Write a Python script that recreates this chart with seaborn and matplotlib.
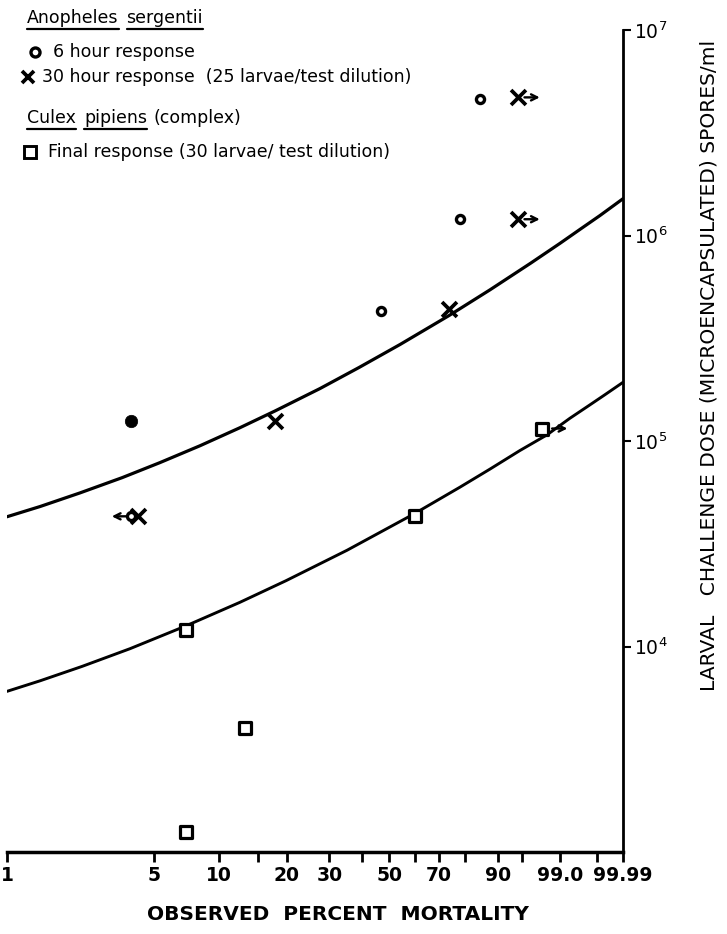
import numpy as np
import pandas as pd
import matplotlib
matplotlib.use("Agg")
import matplotlib.pyplot as plt
import seaborn as sns
from matplotlib.transforms import ScaledTranslation
from matplotlib.lines import Line2D

# ---------------- data ----------------
six_hour_pct = [3.9, 3.9, 47.0, 78.0, 85.0]
six_hour_dose = [1.25e5, 4.3e4, 4.3e5, 1.2e6, 4.6e6]
six_hour_fill = ["filled", "open", "open", "open", "open"]
six_hour_arrow = [None, "left", None, None, None]

thirty_hour_pct = [4.2, 17.8, 74.0, 94.3, 94.3]
thirty_hour_dose = [4.3e4, 1.25e5, 4.4e5, 1.2e6, 4.7e6]
thirty_hour_arrow = [None, None, None, "right", "right"]

culex_pct = [7.0, 13.1, 7.0, 60.0, 97.7]
culex_dose = [1.25e3, 4.0e3, 1.2e4, 4.3e4, 1.15e5]
culex_arrow = [None, None, None, None, "right"]

anoph_curve_pct = [1.0, 1.44, 2.23, 3.53, 5.32, 8.16, 12.4, 17.75, 27.5, 39.1,
                   54.2, 73.9, 87.9, 96.4, 98.98, 99.67, 99.92, 99.99]
anoph_curve_dose = [4.28e4, 4.80e4, 5.59e4, 6.63e4, 7.85e4, 9.48e4, 1.16e5, 1.40e5, 1.80e5, 2.28e5,
                    2.95e5, 4.08e5, 5.44e5, 7.35e5, 9.16e5, 1.07e6, 1.25e6, 1.51e6]
culex_curve_pct = [1.0, 1.44, 2.28, 3.85, 7.03, 12.4, 19.8, 35.2, 59.8, 78.0,
                   87.9, 94.7, 98.1, 99.40, 99.81, 99.947, 99.99]
culex_curve_dose = [6.05e3, 6.81e3, 8.0e3, 9.76e3, 1.26e4, 1.64e4, 2.09e4, 2.94e4, 4.42e4, 5.96e4,
                    7.30e4, 8.98e4, 1.07e5, 1.29e5, 1.48e5, 1.68e5, 1.93e5]

x_ticks = [1, 5, 10, 15, 20, 30, 40, 50, 60, 70, 80, 90, 95, 99.0, 99.9, 99.99]
x_tick_labels = ["1", "5", "10", "", "20", "30", "", "50", "", "70", "", "90", "", "99.0", "", "99.99"]
y_ticks = [1e4, 1e5, 1e6, 1e7]
y_tick_labels = [r"$10^4$", r"$10^5$", r"$10^6$", r"$10^7$"]

x_label = "OBSERVED  PERCENT  MORTALITY"
y_label = "LARVAL   CHALLENGE DOSE (MICROENCAPSULATED) SPORES/ml"

# ---------------- style ----------------
sns.set_style("white")
plt.rcParams["font.family"] = ["DejaVu Sans"]
plt.rcParams["mathtext.fontset"] = "dejavusans"
plt.rcParams["text.color"] = "black"
plt.rcParams["axes.edgecolor"] = "black"
plt.rcParams["xtick.color"] = "black"
plt.rcParams["ytick.color"] = "black"
plt.rcParams["axes.labelcolor"] = "black"

W, H = 727, 934
fig = plt.figure(figsize=(W / 100, H / 100), dpi=100)
ax = fig.add_axes([7 / W, 1 - 852 / H, (623 - 7) / W, (852 - 30) / H])


def fwd(p):
    p = np.clip(np.asarray(p, dtype=float), 1e-9, 100 - 1e-9)
    return np.log(-np.log1p(-p / 100.0))


def inv(w):
    w = np.asarray(w, dtype=float)
    return 100.0 * (-np.expm1(-np.exp(w)))


ax.set_xscale("function", functions=(fwd, inv))
ax.set_yscale("log")

# fitted response curves
sns.lineplot(x=anoph_curve_pct, y=anoph_curve_dose, sort=False, estimator=None,
             color="black", lw=2.3, ax=ax)
sns.lineplot(x=culex_curve_pct, y=culex_curve_dose, sort=False, estimator=None,
             color="black", lw=2.1, ax=ax)

six_df = pd.DataFrame({"pct": six_hour_pct, "dose": six_hour_dose, "fill": six_hour_fill})
thirty_df = pd.DataFrame({"pct": thirty_hour_pct, "dose": thirty_hour_dose})
culex_df = pd.DataFrame({"pct": culex_pct, "dose": culex_dose})

sns.scatterplot(data=six_df[six_df["fill"] == "open"], x="pct", y="dose", marker="o", s=34,
                color="white", edgecolor="black", linewidth=2.4, ax=ax, zorder=5)
sns.scatterplot(data=six_df[six_df["fill"] == "filled"], x="pct", y="dose", marker="o", s=80,
                color="black", edgecolor="black", linewidth=0.5, ax=ax, zorder=5)
sns.scatterplot(data=thirty_df, x="pct", y="dose", marker="x", s=115,
                color="black", linewidth=2.7, ax=ax, zorder=5)
sns.scatterplot(data=culex_df, x="pct", y="dose", marker="s", s=85,
                color="white", edgecolor="black", linewidth=2.3, ax=ax, zorder=5)


def add_arrow(p, d, direction, near, far):
    sgn = 1 if direction == "right" else -1
    start = ax.transData + ScaledTranslation(sgn * near / 72, 0, fig.dpi_scale_trans)
    end = ax.transData + ScaledTranslation(sgn * far / 72, 0, fig.dpi_scale_trans)
    ax.annotate("", xy=(p, d), xycoords=end, xytext=(p, d), textcoords=start,
                arrowprops=dict(arrowstyle="->", lw=1.7, color="black",
                                shrinkA=0, shrinkB=0, mutation_scale=11))


for p, d, a in zip(six_hour_pct, six_hour_dose, six_hour_arrow):
    if a:
        add_arrow(p, d, a, 3, 14)
for p, d, a in zip(thirty_hour_pct, thirty_hour_dose, thirty_hour_arrow):
    if a:
        add_arrow(p, d, a, 5, 16)
for p, d, a in zip(culex_pct, culex_dose, culex_arrow):
    if a:
        add_arrow(p, d, a, 7, 18)

# axes formatting
ax.set_xlim(1, 99.99)
ax.set_ylim(1e3, 1e7)
ax.set_xticks(x_ticks)
ax.set_xticklabels(x_tick_labels)
ax.xaxis.set_minor_locator(matplotlib.ticker.NullLocator())
ax.set_yticks(y_ticks)
ax.set_yticklabels(y_tick_labels)
ax.yaxis.set_minor_locator(matplotlib.ticker.NullLocator())
ax.yaxis.tick_right()
ax.set_xlabel("")
ax.set_ylabel("")
for s in ["left", "top"]:
    ax.spines[s].set_visible(False)
ax.spines["bottom"].set_linewidth(2.5)
ax.spines["right"].set_linewidth(2.0)
ax.spines["bottom"].set_color("black")
ax.spines["right"].set_color("black")
ax.tick_params(axis="x", direction="out", length=7, width=2, labelsize=13.5, pad=3, bottom=True,
               colors="black")
ax.tick_params(axis="y", direction="out", length=6, width=1.5, labelsize=13.5, pad=2,
               right=True, left=False, colors="black")
for t in ax.get_xticklabels():
    t.set_fontweight("bold")

fig.text(338 / W, 1 - 915 / H, x_label, ha="center", va="center", fontsize=14.5,
         fontweight="bold", color="black")
fig.text(709 / W, 1 - 365 / H, y_label, ha="center", va="center", rotation=90, fontsize=14.6,
         color="black")

# ---------------- legend block (upper left) ----------------
FS = 12.5


def ftext(x, y, s, **kw):
    return fig.text(x / W, 1 - y / H, s, fontsize=FS, va="center", ha="left", color="black", **kw)


fig.canvas.draw()
renderer = fig.canvas.get_renderer()


def underline(t):
    bb = t.get_window_extent(renderer)
    yl = bb.y0 - 1.5
    fig.add_artist(Line2D([bb.x0 / W, bb.x1 / W], [yl / H, yl / H], color="black", lw=1.6,
                          transform=fig.transFigure))
    return bb


t1 = ftext(27, 18, "Anopheles")
bb1 = underline(t1)
t2 = fig.text(bb1.x1 / W + 8 / W, 1 - 18 / H, "sergentii", fontsize=FS, va="center", ha="left",
              color="black")
underline(t2)

fig.add_artist(Line2D([35 / W], [1 - 52 / H], marker="o", markersize=6.5, markerfacecolor="white",
                      markeredgecolor="black", markeredgewidth=2.4, transform=fig.transFigure))
ftext(53, 52, "6 hour response")
fig.add_artist(Line2D([28 / W], [1 - 77 / H], marker="x", markersize=9, color="black",
                      markeredgewidth=2.7, transform=fig.transFigure))
ftext(42, 77, "30 hour response  (25 larvae/test dilution)")

t3 = ftext(27, 118, "Culex")
bb3 = underline(t3)
t4 = fig.text(bb3.x1 / W + 8 / W, 1 - 118 / H, "pipiens", fontsize=FS, va="center", ha="left",
              color="black")
bb4 = underline(t4)
fig.text(bb4.x1 / W + 7 / W, 1 - 118 / H, "(complex)", fontsize=FS, va="center", ha="left",
         color="black")

fig.add_artist(Line2D([30 / W], [1 - 152 / H], marker="s", markersize=8.5, markerfacecolor="white",
                      markeredgecolor="black", markeredgewidth=2.1, transform=fig.transFigure))
ftext(48, 152, "Final response (30 larvae/ test dilution)")

fig.savefig("out.png", dpi=100)
